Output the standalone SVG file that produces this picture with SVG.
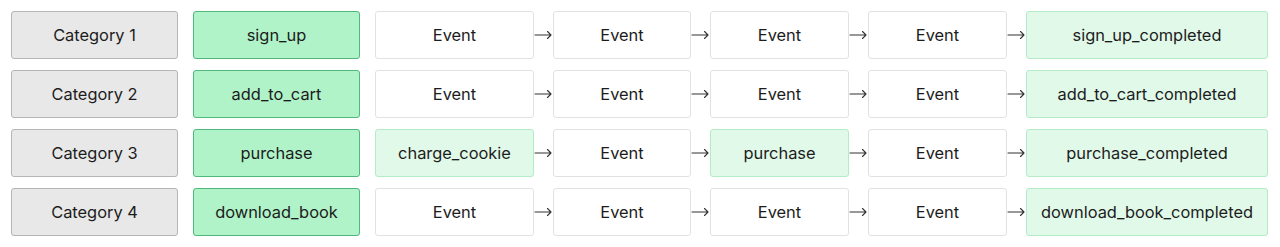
<svg xmlns="http://www.w3.org/2000/svg" width="1280" height="247" viewBox="0 0 1280 247">
<style>
text{font-family:Inter,"Noto Sans",sans-serif;font-size:16.4px;fill:#1c1c1c;text-anchor:middle;dominant-baseline:central}
.cat{fill:#e8e8e8;stroke:#b5b5b5;stroke-width:1}
.key{fill:#b0f3c9;stroke:#4fb97c;stroke-width:1}
.lt{fill:#e1f9e9;stroke:#b6ebc8;stroke-width:1}
.ev{fill:#ffffff;stroke:#e2e2e2;stroke-width:1}
.arr{fill:none;stroke:#333;stroke-width:1.1;stroke-linecap:round;stroke-linejoin:round}
</style>
<rect width="1280" height="247" fill="#ffffff"/>
<g id="row1">
<g id="c1"><rect class="cat" x="11.5" y="11.5" width="166" height="47" rx="2.5"/><text x="94.5" y="35">Category 1</text></g>
<g id="k1"><rect class="key" x="193.5" y="11.5" width="166" height="47" rx="2.5"/><text x="276.5" y="35">sign_up</text></g>
<g id="e11"><rect class="ev" x="375.5" y="11.5" width="158" height="47" rx="2.5"/><text x="454.5" y="35">Event</text></g>
<g id="e12"><rect class="ev" x="553.5" y="11.5" width="137" height="47" rx="2.5"/><text x="622" y="35">Event</text></g>
<g id="e13"><rect class="ev" x="710.5" y="11.5" width="138" height="47" rx="2.5"/><text x="779.5" y="35">Event</text></g>
<g id="e14"><rect class="ev" x="868.5" y="11.5" width="138" height="47" rx="2.5"/><text x="937.5" y="35">Event</text></g>
<g id="f1"><rect class="lt" x="1026.5" y="11.5" width="241" height="47" rx="2.5"/><text x="1147" y="35">sign_up_completed</text></g>
</g>
<g id="row2">
<g id="c2"><rect class="cat" x="11.5" y="70.5" width="166" height="47" rx="2.5"/><text x="94.5" y="94">Category 2</text></g>
<g id="k2"><rect class="key" x="193.5" y="70.5" width="166" height="47" rx="2.5"/><text x="276.5" y="94">add_to_cart</text></g>
<g id="e21"><rect class="ev" x="375.5" y="70.5" width="158" height="47" rx="2.5"/><text x="454.5" y="94">Event</text></g>
<g id="e22"><rect class="ev" x="553.5" y="70.5" width="137" height="47" rx="2.5"/><text x="622" y="94">Event</text></g>
<g id="e23"><rect class="ev" x="710.5" y="70.5" width="138" height="47" rx="2.5"/><text x="779.5" y="94">Event</text></g>
<g id="e24"><rect class="ev" x="868.5" y="70.5" width="138" height="47" rx="2.5"/><text x="937.5" y="94">Event</text></g>
<g id="f2"><rect class="lt" x="1026.5" y="70.5" width="241" height="47" rx="2.5"/><text x="1147" y="94">add_to_cart_completed</text></g>
</g>
<g id="row3">
<g id="c3"><rect class="cat" x="11.5" y="129.5" width="166" height="47" rx="2.5"/><text x="94.5" y="153">Category 3</text></g>
<g id="k3"><rect class="key" x="193.5" y="129.5" width="166" height="47" rx="2.5"/><text x="276.5" y="153">purchase</text></g>
<g id="e31"><rect class="lt" x="375.5" y="129.5" width="158" height="47" rx="2.5"/><text x="454.5" y="153">charge_cookie</text></g>
<g id="e32"><rect class="ev" x="553.5" y="129.5" width="137" height="47" rx="2.5"/><text x="622" y="153">Event</text></g>
<g id="e33"><rect class="lt" x="710.5" y="129.5" width="138" height="47" rx="2.5"/><text x="779.5" y="153">purchase</text></g>
<g id="e34"><rect class="ev" x="868.5" y="129.5" width="138" height="47" rx="2.5"/><text x="937.5" y="153">Event</text></g>
<g id="f3"><rect class="lt" x="1026.5" y="129.5" width="241" height="47" rx="2.5"/><text x="1147" y="153">purchase_completed</text></g>
</g>
<g id="row4">
<g id="c4"><rect class="cat" x="11.5" y="188.5" width="166" height="47" rx="2.5"/><text x="94.5" y="212">Category 4</text></g>
<g id="k4"><rect class="key" x="193.5" y="188.5" width="166" height="47" rx="2.5"/><text x="276.5" y="212">download_book</text></g>
<g id="e41"><rect class="ev" x="375.5" y="188.5" width="158" height="47" rx="2.5"/><text x="454.5" y="212">Event</text></g>
<g id="e42"><rect class="ev" x="553.5" y="188.5" width="137" height="47" rx="2.5"/><text x="622" y="212">Event</text></g>
<g id="e43"><rect class="ev" x="710.5" y="188.5" width="138" height="47" rx="2.5"/><text x="779.5" y="212">Event</text></g>
<g id="e44"><rect class="ev" x="868.5" y="188.5" width="138" height="47" rx="2.5"/><text x="937.5" y="212">Event</text></g>
<g id="f4"><rect class="lt" x="1026.5" y="188.5" width="241" height="47" rx="2.5"/><text x="1147" y="212">download_book_completed</text></g>
</g>
<g id="connectors">
<defs><path id="a" class="arr" d="M0 0 H16 M12.5 -3.5 L16 0 L12.5 3.5"/></defs>
<use href="#a" x="535" y="35"/><use href="#a" x="692" y="35"/><use href="#a" x="850" y="35"/><use href="#a" x="1008" y="35"/>
<use href="#a" x="535" y="94"/><use href="#a" x="692" y="94"/><use href="#a" x="850" y="94"/><use href="#a" x="1008" y="94"/>
<use href="#a" x="535" y="153"/><use href="#a" x="692" y="153"/><use href="#a" x="850" y="153"/><use href="#a" x="1008" y="153"/>
<use href="#a" x="535" y="212"/><use href="#a" x="692" y="212"/><use href="#a" x="850" y="212"/><use href="#a" x="1008" y="212"/>
</g>
</svg>
